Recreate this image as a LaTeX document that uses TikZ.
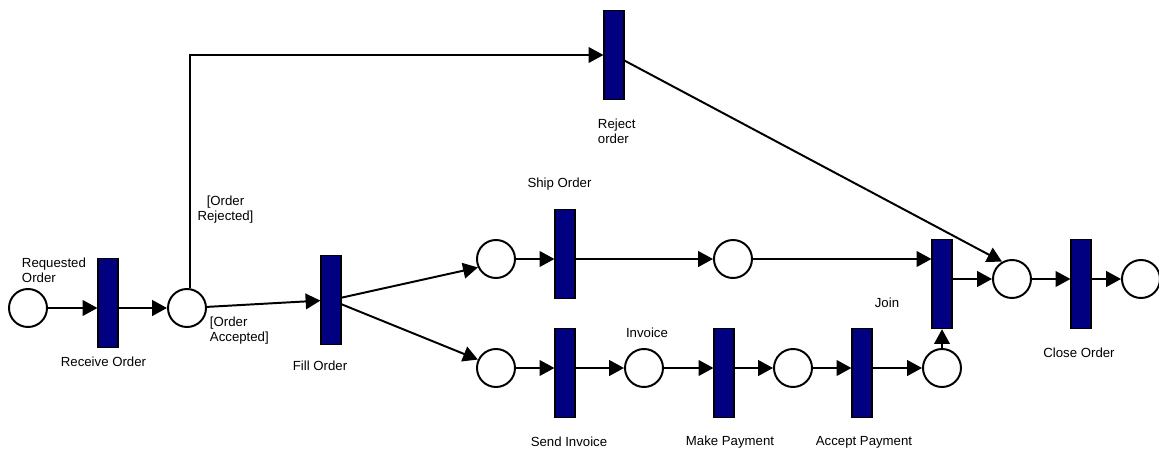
\documentclass[tikz,border=0pt]{standalone}
\usepackage{fontspec}
\setmainfont{Liberation Sans}
\usepackage{tikz}
\usetikzlibrary{arrows.meta}
\usepackage{xcolor}
\definecolor{navy}{HTML}{000080}

\begin{document}
\begin{tikzpicture}[>={Triangle[length=3.7mm,width=3.9mm]},line width=1.4pt,
  font=\fontsize{9.4}{10.7}\selectfont,
  place/.style={circle,draw,fill=white,minimum size=0.95cm,inner sep=0pt},
  trans/.style={rectangle,draw,line width=1.1pt,fill=navy,minimum width=0.49cm,minimum height=2.22cm,inner sep=0pt},
  lbl/.style={align=left,inner sep=0pt}]
\useasboundingbox (0,0) rectangle (28.975,11.275);
% places and transitions
\node[place] (reqd) at (0.7,3.575) {};
\node[trans] (recv) at (2.7,3.7) {};
\node[place] (recd) at (4.675,3.575) {};
\node[trans] (fill) at (8.275,3.775) {};
\node[trans] (rej) at (15.35,9.9) {};
\node[place] (shipin) at (12.4,4.8) {};
\node[trans] (ship) at (14.125,4.925) {};
\node[place] (shipped) at (18.325,4.8) {};
\node[place] (invin) at (12.4,2.075) {};
\node[trans] (send) at (14.125,1.95) {};
\node[place] (inv) at (16.1,2.075) {};
\node[trans] (pay) at (18.1,1.95) {};
\node[place] (paid) at (19.825,2.075) {};
\node[trans] (acc) at (21.55,1.95) {};
\node[place] (accd) at (23.55,2.075) {};
\node[trans] (join) at (23.55,4.175) {};
\node[place] (joined) at (25.3,4.3) {};
\node[trans] (close) at (27.025,4.175) {};
\node[place] (closed) at (28.525,4.3) {};
% arcs
\draw[->] (reqd) -- (recv.west |- reqd);
\draw[->] (recv.east |- recd) -- (recd);
\draw[->] (recd) -- (fill);
\draw[->] (recd.80) |- (rej.west);
\draw[->] (fill) -- (shipin.205);
\draw[->] (fill) -- (invin.155);
\draw[->] (shipin) -- (ship.west |- shipin);
\draw[->] (ship.east |- shipped) -- (shipped);
\draw[->] (shipped) -- (join.west |- shipped);
\draw[->] (invin) -- (send.west |- invin);
\draw[->] (send.east |- inv) -- (inv);
\draw[->] (inv) -- (pay.west |- inv);
\draw[->] (pay.east |- paid) -- (paid);
\draw[->] (paid) -- (acc.west |- paid);
\draw[->] (acc.east |- accd) -- (accd);
\draw[->] (accd) -- (join);
\draw[->] (join.east |- joined) -- (joined);
\draw[->] (rej) -- (joined.120);
\draw[->] (joined) -- (close.west |- joined);
\draw[->] (close.east |- closed) -- (closed);
% labels
\node[lbl,anchor=west] (reqdlbl) at (0.525,4.5125) {Requested\\Order};
\node (recvlbl) at (2.5875,2.225) {Receive Order};
\node[lbl,anchor=west] (acptlbl) at (5.225,3.0125) {[Order\\Accepted]};
\node[lbl,align=center] (rejdlbl) at (5.6375,6.025) {[Order\\Rejected]};
\node (filllbl) at (8.0,2.125) {Fill Order};
\node[lbl,anchor=west] (rejlbl) at (14.925,8.0) {Reject\\order};
\node (shiplbl) at (13.9875,6.675) {Ship Order};
\node (joinlbl) at (22.175,3.7) {Join};
\node (closelbl) at (26.975,2.45) {Close Order};
\node (invlbl) at (16.175,2.95) {Invoice};
\node (sendlbl) at (14.225,0.225) {Send Invoice};
\node (paylbl) at (18.25,0.225) {Make Payment};
\node (acclbl) at (21.6,0.225) {Accept Payment};
\end{tikzpicture}
\end{document}
